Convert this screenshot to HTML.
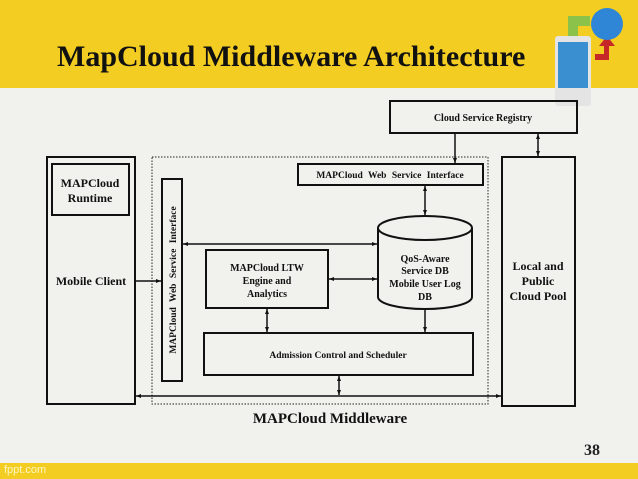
<!DOCTYPE html>
<html><head><style>
body{margin:0;width:638px;height:479px;overflow:hidden;background:#f1f1ed;font-family:"Liberation Serif",serif;}
.hdr{position:absolute;left:0;top:0;width:638px;height:88px;background:#f3cd22;}
.ft{position:absolute;left:0;top:463px;width:638px;height:16px;background:#f3cd22;color:#fff6c0;font:11px "Liberation Sans",sans-serif;}
.t{position:absolute;left:57px;top:40px;font-size:30px;font-weight:bold;color:#111;}
</style></head><body>
<div class="hdr"></div>
<div class="t">MapCloud Middleware Architecture</div>
<div class="ft"><span style="position:absolute;left:4px;top:1px">fppt.com</span></div>
<svg width="638" height="479" style="position:absolute;left:0;top:0" font-family="Liberation Serif, serif" font-weight="bold">
<defs><marker id="a" markerWidth="5" markerHeight="5" refX="5" refY="2.5" orient="auto-start-reverse" markerUnits="userSpaceOnUse"><path d="M0,0.5 L5,2.5 L0,4.5z" fill="#111"/></marker></defs>
<!-- icon -->
<path d="M568 16 h22 v10 h-12 v10 h-10z" fill="#8bc34a"/>
<rect x="555" y="36" width="36" height="70" rx="3" fill="#e4e4e4"/>
<rect x="558" y="42" width="30" height="46" fill="#3a8fd0"/>
<path d="M595 60 h14 v-14 h6 l-8 -10 l-8 10 h5 v8 h-9z" fill="#c62828"/>
<circle cx="607" cy="24" r="16" fill="#2f86d6"/>
<g fill="none" stroke="#111" stroke-width="2">
<rect x="390" y="101" width="187" height="32"/>
<rect x="47" y="157" width="88" height="247"/>
<rect x="52" y="164" width="77" height="51"/>
<rect x="502" y="157" width="73" height="249"/>
<rect x="298" y="164" width="185" height="21"/>
<rect x="162" y="179" width="20" height="202"/>
<rect x="206" y="250" width="122" height="58"/>
<rect x="204" y="333" width="269" height="42"/>
<path d="M378 228 V297 A47 12 0 0 0 472 297 V228"/>
<ellipse cx="425" cy="228" rx="47" ry="12"/>
</g>
<rect x="152" y="157" width="336" height="247" fill="none" stroke="#222" stroke-width="1" stroke-dasharray="1.5,1.5"/>
<g stroke="#111" stroke-width="1.5" marker-end="url(#a)">
<line x1="455" y1="133" x2="455" y2="163"/>
<line x1="538" y1="134" x2="538" y2="156" marker-start="url(#a)"/>
<line x1="425" y1="186" x2="425" y2="215" marker-start="url(#a)"/>
<line x1="183" y1="244" x2="377" y2="244" marker-start="url(#a)"/>
<line x1="329" y1="279" x2="377" y2="279" marker-start="url(#a)"/>
<line x1="267" y1="309" x2="267" y2="332" marker-start="url(#a)"/>
<line x1="425" y1="310" x2="425" y2="332"/>
<line x1="339" y1="376" x2="339" y2="395" marker-start="url(#a)"/>
<line x1="136" y1="396" x2="501" y2="396" marker-start="url(#a)"/>
<line x1="136" y1="281" x2="161" y2="281"/>
</g>
<g fill="#111" text-anchor="middle" font-size="10">
<text x="483" y="121">Cloud Service Registry</text>
<text x="90" y="187" font-size="12">MAPCloud</text>
<text x="90" y="202" font-size="12">Runtime</text>
<text x="91" y="285" font-size="12">Mobile Client</text>
<text x="538" y="270" font-size="12">Local and</text>
<text x="538" y="285" font-size="12">Public</text>
<text x="538" y="300" font-size="12">Cloud Pool</text>
<text x="390" y="178" font-size="9.5" word-spacing="3">MAPCloud Web Service Interface</text>
<text transform="translate(176,280) rotate(-90)" font-size="9.5" word-spacing="3">MAPCloud Web Service Interface</text>
<text x="267" y="271" font-size="10">MAPCloud  LTW</text>
<text x="267" y="284" font-size="10">Engine and</text>
<text x="267" y="297" font-size="10">Analytics</text>
<text x="425" y="262" font-size="10">QoS-Aware</text>
<text x="425" y="274" font-size="10">Service DB</text>
<text x="425" y="287" font-size="10">Mobile User Log</text>
<text x="425" y="300" font-size="10">DB</text>
<text x="338" y="358" font-size="9.5">Admission Control and Scheduler</text>
<text x="330" y="423" font-size="15">MAPCloud Middleware</text>
</g>
<text x="584" y="455" font-size="16" fill="#222" font-family="Liberation Serif, serif">38</text>
</svg>
</body></html>
